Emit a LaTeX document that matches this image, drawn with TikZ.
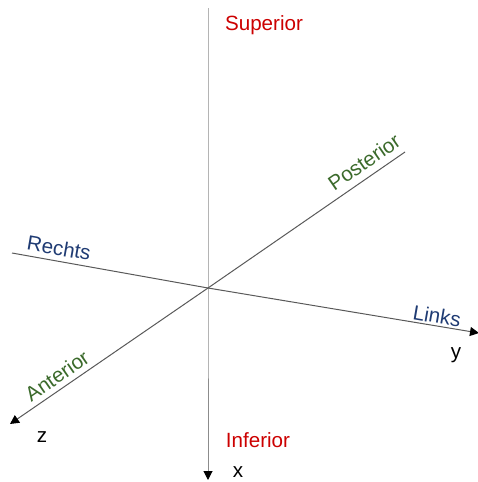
\documentclass[tikz,border=0pt]{standalone}
\usepackage{fontspec}
\setmainfont{Liberation Sans}
\usetikzlibrary{arrows.meta}
\definecolor{supinf}{HTML}{CC0000}
\definecolor{rechtslinks}{HTML}{1F3B73}
\definecolor{antpost}{HTML}{3B6A2B}

\begin{document}
\begin{tikzpicture}[x=0.5pt, y=-0.5pt,
      axis/.style={draw=black!65, line width=0.5pt},
      tip/.style={-{Triangle[length=4.5pt, width=4.5pt, color=black]}},
      every node/.style={font=\fontsize{10.3}{12}\selectfont, inner sep=0pt}]
    \useasboundingbox (0,0) rectangle (477,482);
    % axis ends
    \coordinate (o) at (208,288);
    \coordinate (top) at (208,8);
    \coordinate (xend) at (208,480);
    \coordinate (rend) at (12,253);
    \coordinate (yend) at (479,333);
    \coordinate (pend) at (405,152);
    \coordinate (zend) at (10,424);
    \draw[axis, draw=black!45, tip] (top) -- (o) -- (xend);
    \draw[axis, tip] (rend) -- (o) -- (yend);
    \draw[axis, tip] (pend) -- (o) -- (zend);
    % labels
    \node[text=supinf] (sup) at (264,25) {Superior};
    \node[text=supinf] (inf) at (258,440) {Inferior};
    \node[text=rechtslinks, rotate=-9.8] (re) at (59,248) {Rechts};
    \node[text=rechtslinks, rotate=-9.8] (li) at (437,316) {Links};
    \node[text=antpost, rotate=34.6] (post) at (364,162) {Posterior};
    \node[text=antpost, rotate=34.6] (ant) at (57,376) {Anterior};
    \node (xl) at (238,472) {x};
    \node (yl) at (456,355) {y};
    \node (zl) at (42,437) {z};
\end{tikzpicture}
\end{document}
